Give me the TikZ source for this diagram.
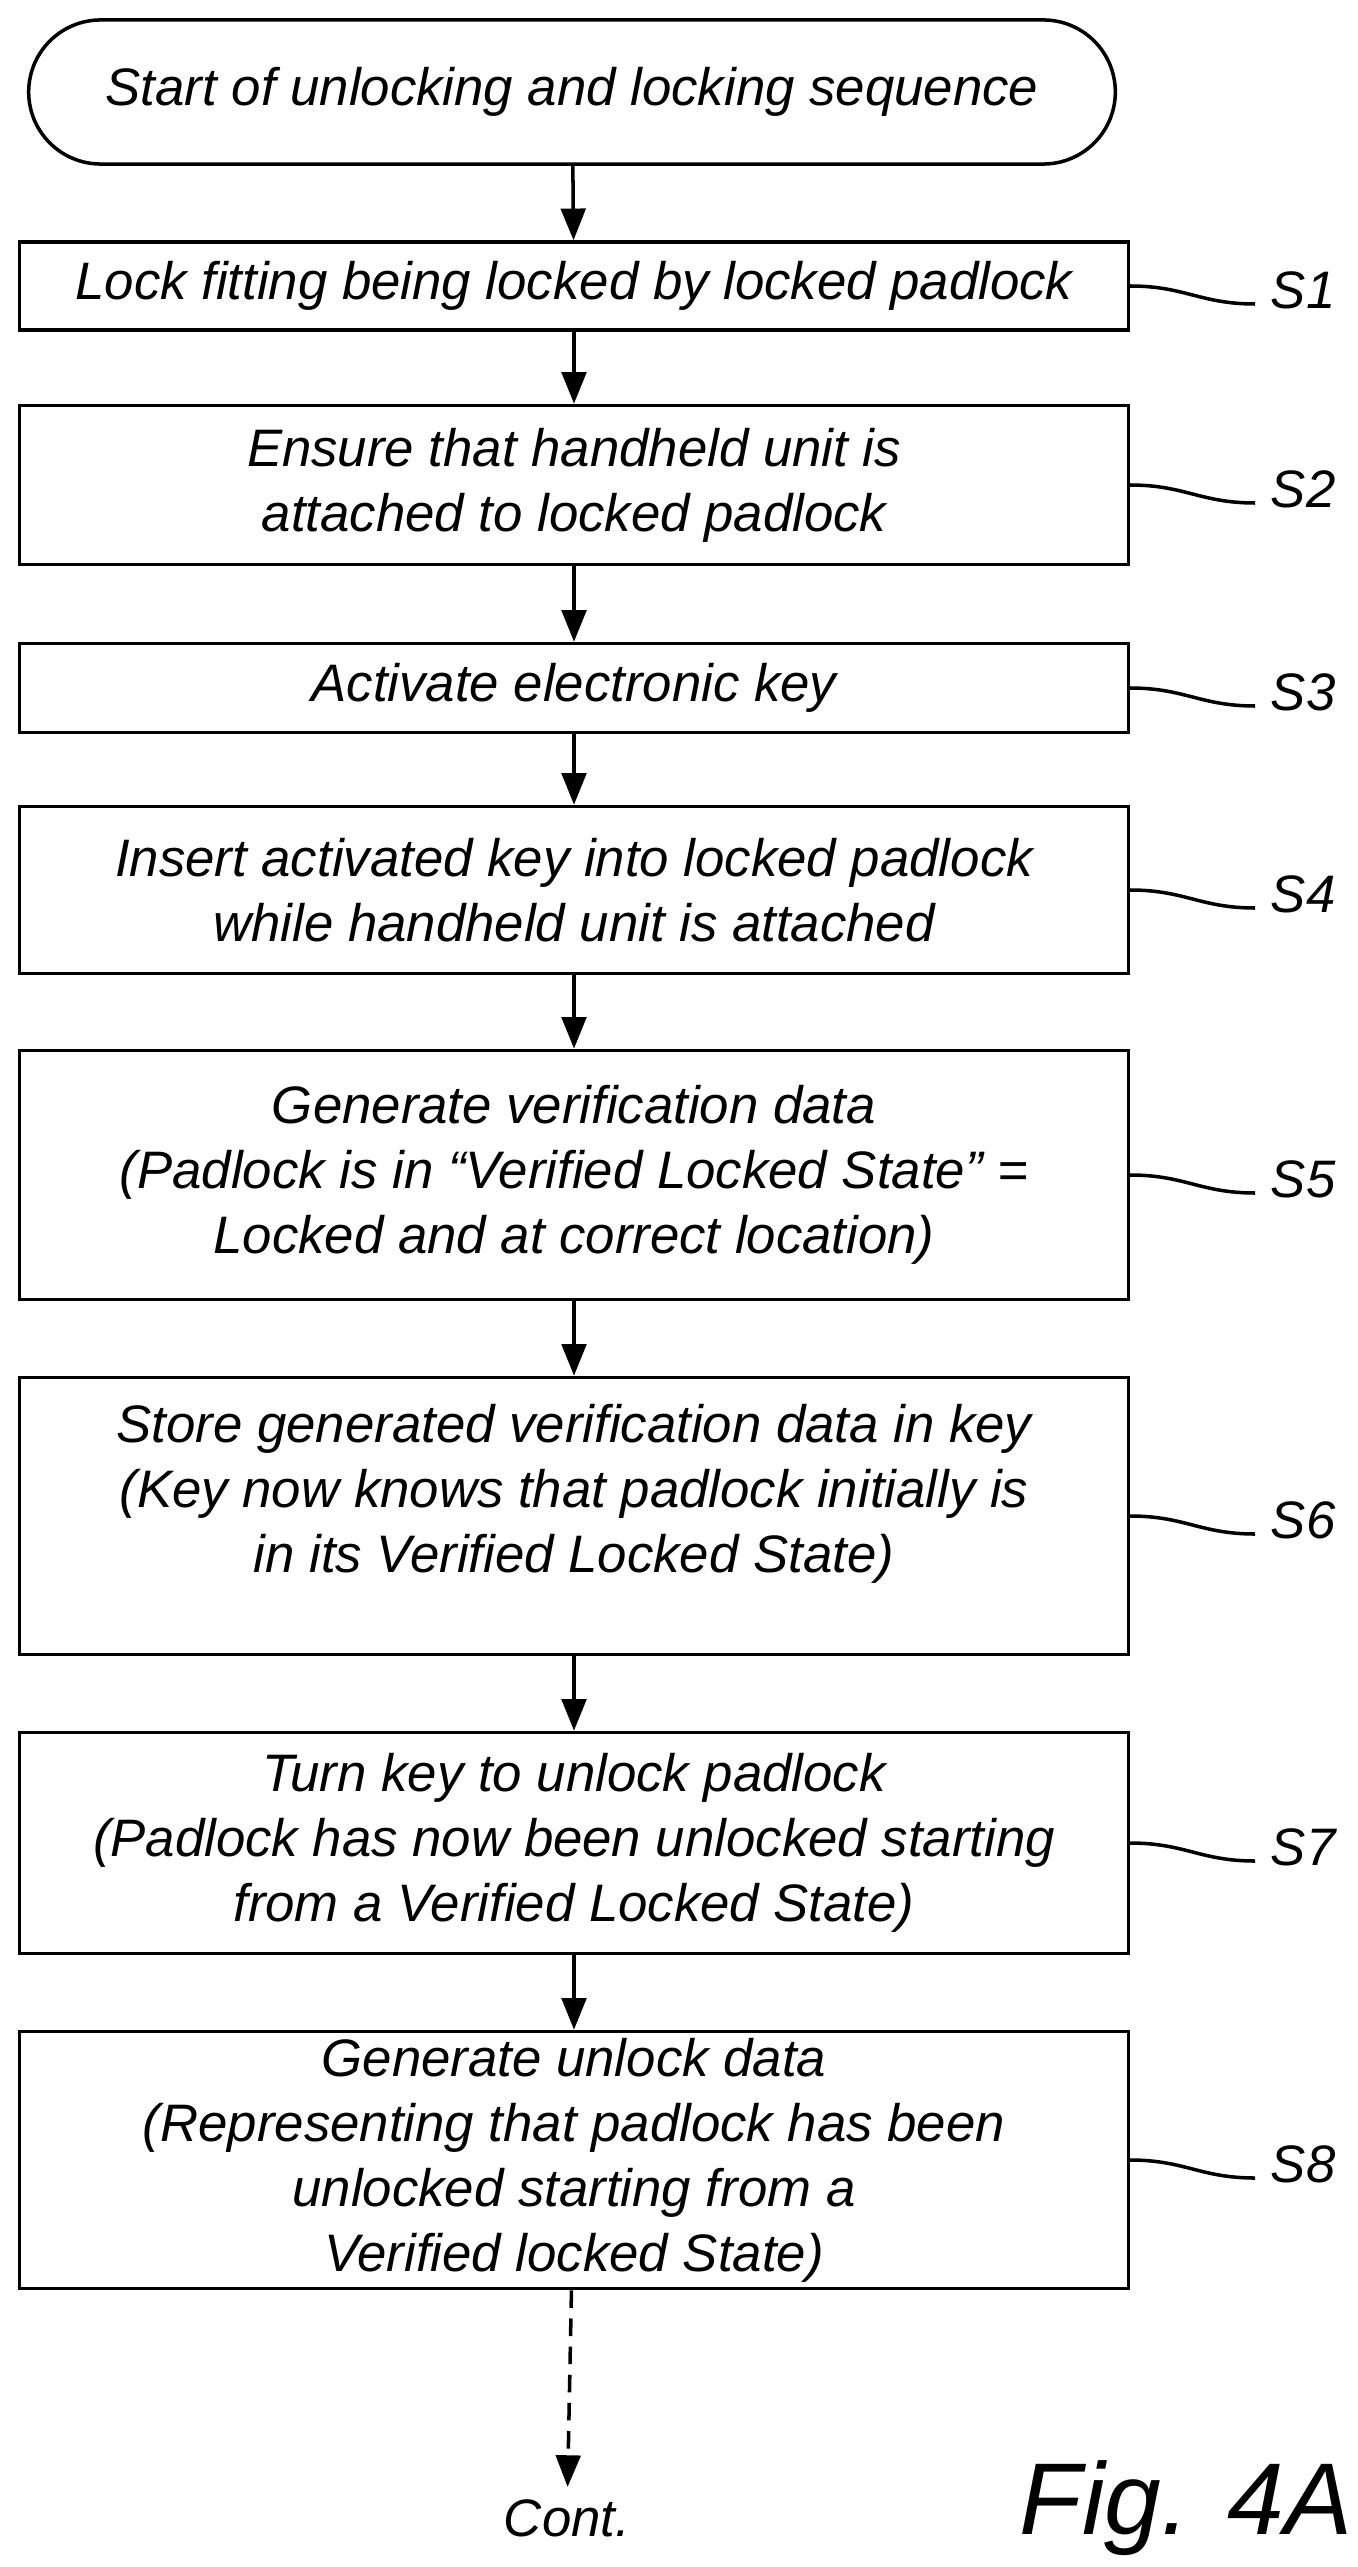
\documentclass[tikz,border=0pt]{standalone}
\usepackage{fontspec}
\setmainfont{Liberation Sans}
\usetikzlibrary{arrows.meta,shapes.misc}
\tikzset{
  stepbox/.style={draw,line width=1pt,minimum width=11.08cm,align=center,font=\itshape\fontsize{15}{18.5}\selectfont,inner sep=0pt},
  term/.style={stepbox,rounded rectangle,minimum width=10.86cm,minimum height=1.44cm},
  flow/.style={line width=1pt,-{Triangle[length=9pt,width=7pt]}},
  squig/.style={line width=1pt},
  lbl/.style={font=\itshape\fontsize{15}{16}\selectfont,anchor=west}
}
\begin{document}
\begin{tikzpicture}[x=0.01cm,y=-0.01cm]
\useasboundingbox (0,0) rectangle (1357,2567);
%% boxes
\node[term] (start) at (572,92) {Start of unlocking and locking sequence};
\node[stepbox,minimum height=0.88cm] (s1) at (574,286) {Lock fitting being locked by locked padlock};
\node[stepbox,minimum height=1.59cm] (s2) at (574,485) {Ensure that handheld unit is\\attached to locked padlock};
\node[stepbox,minimum height=0.89cm] (s3) at (574,688) {Activate electronic key};
\node[stepbox,minimum height=1.67cm] (s4) at (574,890) {Insert activated key into locked padlock\\while handheld unit is attached};
\node[stepbox,minimum height=2.49cm] (s5) at (574,1175) {Generate verification data\\(Padlock is in \char"201C Verified Locked State\char"201D\ =\\Locked and at correct location)};
\node[stepbox,minimum height=2.77cm] (s6) at (574,1516) {Store generated verification data in key\\(Key now knows that padlock initially is\\in its Verified Locked State)\\[-3pt]\mbox{}};
\node[stepbox,minimum height=2.21cm] (s7) at (574,1843) {Turn key to unlock padlock\\(Padlock has now been unlocked starting\\from a Verified Locked State)};
\node[stepbox,minimum height=2.57cm] (s8) at (574,2160) {Generate unlock data\\(Representing that padlock has been\\unlocked starting from a\\Verified locked State)};
\node[font=\itshape\fontsize{15}{16}\selectfont] (cont) at (567,2518) {Cont.};
\node[font=\itshape\fontsize{29}{32}\selectfont] (fig) at (1186,2508) {Fig. 4A};
%% arrows
\draw[flow] (start) -- (s1);
\foreach \a/\b in {s1/s2,s2/s3,s3/s4,s4/s5,s5/s6,s6/s7,s7/s8}
  \draw[flow] (\a) -- (\b);
\draw[flow,dash pattern=on 5pt off 3pt] (s8) -- (cont);
%% step labels
\foreach \s/\t in {s1/S1,s2/S2,s3/S3,s4/S4,s5/S5,s6/S6,s7/S7,s8/S8}
  \draw[squig] (\s.east) .. controls +(55,0) and +(-55,0) .. ++(125,18)
    node[lbl,inner sep=4pt,yshift=4pt] (l\s) {\t};
\end{tikzpicture}
\end{document}
